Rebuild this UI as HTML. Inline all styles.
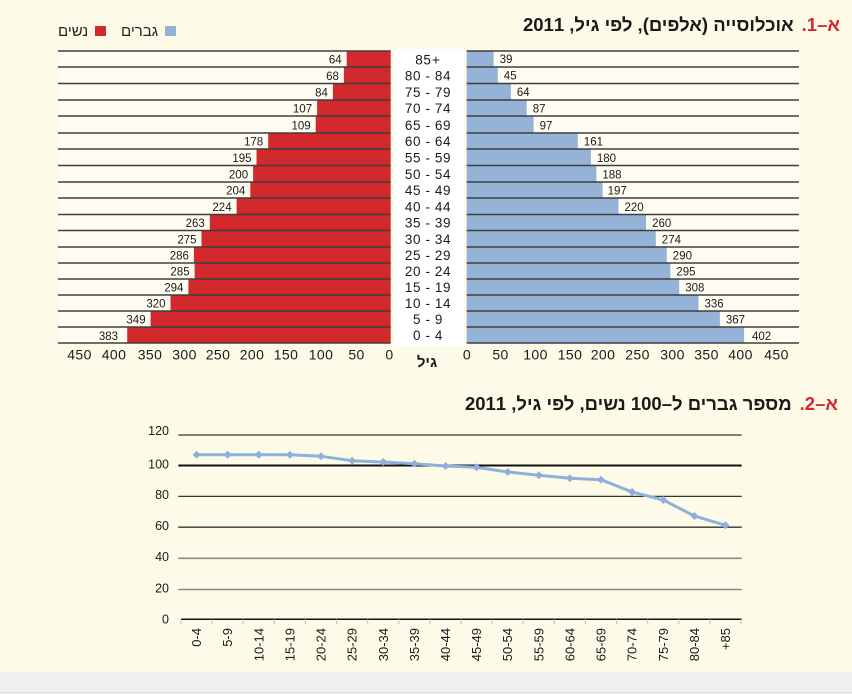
<!DOCTYPE html>
<html><head><meta charset="utf-8">
<style>
html,body{margin:0;padding:0;}
body{width:852px;height:694px;position:relative;overflow:hidden;background:#fdfbe8;font-family:"Liberation Sans","DejaVu Sans",sans-serif;}
svg{position:absolute;left:0;top:0;}
.t{position:absolute;white-space:nowrap;font-weight:bold;font-size:18.5px;line-height:20px;color:#1a1a1a;direction:ltr;}
.t .r{color:#d9262e;margin-left:8px;}
</style></head><body>
<svg width="852" height="694" viewBox="0 0 852 694" font-family="Liberation Sans, DejaVu Sans, sans-serif">
<rect x="0" y="672" width="852" height="22" fill="#efefef"/>
<line x1="0" y1="692.5" x2="852" y2="692.5" stroke="#dcdcdc" stroke-width="1"/>
<!-- legend -->
<text x="58" y="36" font-size="15" fill="#222">נשים</text>
<rect x="95" y="26" width="11" height="10" fill="#d2292d"/>
<text x="121" y="36" font-size="15" fill="#222">גברים</text>
<rect x="165" y="26" width="11" height="10" fill="#95b3d7"/>
<!-- plot areas -->
<rect x="58" y="51" width="333" height="292" fill="#fffdf2"/>
<rect x="466.7" y="51" width="333" height="292" fill="#fffdf2"/>
<rect x="394" y="49" width="70" height="297" fill="#ffffff"/>
<!-- red bars -->
<g fill="#d2292d">
<rect x="346.7" y="51" width="44" height="16"/>
<rect x="343.9" y="67" width="46.8" height="16.5"/>
<rect x="332.9" y="83.5" width="57.8" height="16.5"/>
<rect x="317.1" y="100" width="73.6" height="16"/>
<rect x="315.7" y="116" width="75" height="17"/>
<rect x="268.2" y="133" width="122.5" height="16"/>
<rect x="256.5" y="149" width="134.2" height="16.5"/>
<rect x="253.1" y="165.5" width="137.6" height="16.5"/>
<rect x="250.3" y="182" width="140.4" height="16"/>
<rect x="236.6" y="198" width="154.1" height="16.5"/>
<rect x="209.8" y="214.5" width="180.9" height="16"/>
<rect x="201.5" y="230.5" width="189.2" height="16.5"/>
<rect x="193.9" y="247" width="196.8" height="16"/>
<rect x="194.6" y="263" width="196.1" height="16"/>
<rect x="188.4" y="279" width="202.3" height="16"/>
<rect x="170.5" y="295" width="220.2" height="16"/>
<rect x="150.6" y="311" width="240.1" height="16"/>
<rect x="127.2" y="327" width="263.5" height="16"/>
</g>
<!-- blue bars -->
<g fill="#95b3d7">
<rect x="466.7" y="51" width="26.9" height="16"/>
<rect x="466.7" y="67" width="31.1" height="16.5"/>
<rect x="466.7" y="83.5" width="44.2" height="16.5"/>
<rect x="466.7" y="100" width="60" height="16"/>
<rect x="466.7" y="116" width="66.9" height="17"/>
<rect x="466.7" y="133" width="111.1" height="16"/>
<rect x="466.7" y="149" width="124.2" height="16.5"/>
<rect x="466.7" y="165.5" width="129.7" height="16.5"/>
<rect x="466.7" y="182" width="135.9" height="16"/>
<rect x="466.7" y="198" width="151.8" height="16.5"/>
<rect x="466.7" y="214.5" width="179.4" height="16"/>
<rect x="466.7" y="230.5" width="189.1" height="16.5"/>
<rect x="466.7" y="247" width="200.1" height="16"/>
<rect x="466.7" y="263" width="203.6" height="16"/>
<rect x="466.7" y="279" width="212.5" height="16"/>
<rect x="466.7" y="295" width="231.8" height="16"/>
<rect x="466.7" y="311" width="253.2" height="16"/>
<rect x="466.7" y="327" width="277.4" height="16"/>
</g>
<!-- row lines -->
<g stroke="#3e3e3e" stroke-width="1.4">
<path d="M58 51H390.7M58 67H390.7M58 83.5H390.7M58 100H390.7M58 116H390.7M58 133H390.7M58 149H390.7M58 165.5H390.7M58 182H390.7M58 198H390.7M58 214.5H390.7M58 230.5H390.7M58 247H390.7M58 263H390.7M58 279H390.7M58 295H390.7M58 311H390.7M58 327H390.7M58 343H390.7"/>
<path d="M466.7 51H799M466.7 67H799M466.7 83.5H799M466.7 100H799M466.7 116H799M466.7 133H799M466.7 149H799M466.7 165.5H799M466.7 182H799M466.7 198H799M466.7 214.5H799M466.7 230.5H799M466.7 247H799M466.7 263H799M466.7 279H799M466.7 295H799M466.7 311H799M466.7 327H799M466.7 343H799"/>
</g>
<!-- red value labels -->
<g font-size="11.5" fill="#1a1a1a" text-anchor="end">
<text x="341.7" y="63.5">64</text>
<text x="338.9" y="80">68</text>
<text x="327.9" y="96.5">84</text>
<text x="312.1" y="112.5">107</text>
<text x="310.7" y="129.5">109</text>
<text x="263.2" y="145.5">178</text>
<text x="251.5" y="162">195</text>
<text x="248.1" y="178.5">200</text>
<text x="245.3" y="194.5">204</text>
<text x="231.6" y="211">224</text>
<text x="204.8" y="227">263</text>
<text x="196.5" y="243.5">275</text>
<text x="188.9" y="259.5">286</text>
<text x="189.6" y="275.5">285</text>
<text x="183.4" y="291.5">294</text>
<text x="165.5" y="307.5">320</text>
<text x="145.6" y="323.5">349</text>
<text x="118" y="340">383</text>
</g>
<!-- blue value labels -->
<g font-size="11.5" fill="#1a1a1a">
<text x="499.6" y="63">39</text>
<text x="503.8" y="79.5">45</text>
<text x="516.9" y="96">64</text>
<text x="532.7" y="112.5">87</text>
<text x="539.6" y="129.5">97</text>
<text x="583.8" y="145.5">161</text>
<text x="596.9" y="162">180</text>
<text x="602.4" y="178.5">188</text>
<text x="607.6" y="194.5">197</text>
<text x="624.5" y="211">220</text>
<text x="652.1" y="227">260</text>
<text x="661.8" y="243.5">274</text>
<text x="672.8" y="259.5">290</text>
<text x="676.3" y="275.5">295</text>
<text x="685.2" y="291.5">308</text>
<text x="704.5" y="307.5">336</text>
<text x="725.9" y="323.5">367</text>
<text x="752" y="340">402</text>
</g>
<!-- age labels -->
<g font-size="13.5" fill="#1a1a1a" letter-spacing="0.6">
<text x="431.5" y="64.5" text-anchor="end">85</text>
<text x="432" y="64.5">+</text>
</g>
<g font-size="13.5" fill="#1a1a1a" text-anchor="middle" letter-spacing="0.6">
<text x="428" y="80.5">80 - 84</text>
<text x="428" y="97">75 - 79</text>
<text x="428" y="113">70 - 74</text>
<text x="428" y="130">65 - 69</text>
<text x="428" y="146">60 - 64</text>
<text x="428" y="162.5">55 - 59</text>
<text x="428" y="179">50 - 54</text>
<text x="428" y="195">45 - 49</text>
<text x="428" y="211.5">40 - 44</text>
<text x="428" y="227.5">35 - 39</text>
<text x="428" y="244">30 - 34</text>
<text x="428" y="260">25 - 29</text>
<text x="428" y="276">20 - 24</text>
<text x="428" y="292">15 - 19</text>
<text x="428" y="308">10 - 14</text>
<text x="428" y="324">5 - 9</text>
<text x="428" y="340">0 - 4</text>
</g>
<!-- pyramid tick labels -->
<g font-size="14" fill="#1a1a1a" text-anchor="middle" letter-spacing="0.4">
<text x="79.5" y="359.5">450</text>
<text x="114" y="359.5">400</text>
<text x="150" y="359.5">350</text>
<text x="184.5" y="359.5">300</text>
<text x="218" y="359.5">250</text>
<text x="252" y="359.5">200</text>
<text x="286" y="359.5">150</text>
<text x="321" y="359.5">100</text>
<text x="356.5" y="359.5">50</text>
<text x="389.5" y="359.5">0</text>
<text x="467" y="359.5">0</text>
<text x="500.5" y="359.5">50</text>
<text x="535.5" y="359.5">100</text>
<text x="570" y="359.5">150</text>
<text x="603" y="359.5">200</text>
<text x="637.5" y="359.5">250</text>
<text x="672.5" y="359.5">300</text>
<text x="706.5" y="359.5">350</text>
<text x="740.5" y="359.5">400</text>
<text x="776.5" y="359.5">450</text>
</g>
<text x="427" y="367" font-size="15" font-weight="bold" fill="#1a1a1a" text-anchor="middle">גיל</text>

<!-- line chart -->
<g stroke-width="1.3">
<line x1="178.3" y1="435" x2="741.7" y2="435" stroke="#333"/>
<line x1="178.3" y1="496.4" x2="741.7" y2="496.4" stroke="#333"/>
<line x1="178.3" y1="527.2" x2="741.7" y2="527.2" stroke="#333"/>
<line x1="178.3" y1="558.3" x2="741.7" y2="558.3" stroke="#8a8a8a" stroke-width="1.6"/>
<line x1="178.3" y1="589.5" x2="741.7" y2="589.5" stroke="#8a8a8a" stroke-width="1.6"/>
</g>
<line x1="178.3" y1="465.5" x2="741.7" y2="465.5" stroke="#111" stroke-width="2"/>
<line x1="181" y1="619.3" x2="741.7" y2="619.3" stroke="#111" stroke-width="1.5"/>
<path d="M181 619.3v5M212.1 619.3v5M243.2 619.3v5M274.3 619.3v5M305.4 619.3v5M336.6 619.3v5M367.7 619.3v5M398.8 619.3v5M429.9 619.3v5M461 619.3v5M492.1 619.3v5M523.2 619.3v5M554.3 619.3v5M585.4 619.3v5M616.6 619.3v5M647.7 619.3v5M678.8 619.3v5M709.9 619.3v5M741 619.3v5" stroke="#bbb" stroke-width="1"/>
<g font-size="12.5" fill="#1a1a1a" text-anchor="end">
<text x="169" y="435">120</text>
<text x="169" y="468.5">100</text>
<text x="169" y="499">80</text>
<text x="169" y="530">60</text>
<text x="169" y="561">40</text>
<text x="169" y="592.5">20</text>
<text x="169" y="623.5">0</text>
</g>
<polyline fill="none" stroke="#8eb0dc" stroke-width="3" stroke-linejoin="round" points="196.6,454.7 227.7,454.7 258.8,454.7 289.9,454.7 321,456.3 352.2,460.7 383.3,462 414.4,463.7 445.5,466 476.6,467.3 507.7,472 538.8,475.3 569.9,478.3 601,479.7 632.1,492 663.3,500 694.4,516 725.5,525.3"/>
<g fill="#8eb0dc">
<path d="M196.6 450.7l4 4-4 4-4-4zM227.7 450.7l4 4-4 4-4-4zM258.8 450.7l4 4-4 4-4-4zM289.9 450.7l4 4-4 4-4-4zM321 452.3l4 4-4 4-4-4zM352.2 456.7l4 4-4 4-4-4zM383.3 458l4 4-4 4-4-4zM414.4 459.7l4 4-4 4-4-4zM445.5 462l4 4-4 4-4-4zM476.6 463.3l4 4-4 4-4-4zM507.7 468l4 4-4 4-4-4zM538.8 471.3l4 4-4 4-4-4zM569.9 474.3l4 4-4 4-4-4zM601 475.7l4 4-4 4-4-4zM632.1 488l4 4-4 4-4-4zM663.3 496l4 4-4 4-4-4zM694.4 512l4 4-4 4-4-4zM725.5 521.3l4 4-4 4-4-4z"/>
</g>
<g font-size="13" fill="#1a1a1a" text-anchor="end">
<text transform="translate(201.1,628) rotate(-90)">0-4</text>
<text transform="translate(232.2,628) rotate(-90)">5-9</text>
<text transform="translate(263.3,628) rotate(-90)">10-14</text>
<text transform="translate(294.4,628) rotate(-90)">15-19</text>
<text transform="translate(325.5,628) rotate(-90)">20-24</text>
<text transform="translate(356.7,628) rotate(-90)">25-29</text>
<text transform="translate(387.8,628) rotate(-90)">30-34</text>
<text transform="translate(418.9,628) rotate(-90)">35-39</text>
<text transform="translate(450,628) rotate(-90)">40-44</text>
<text transform="translate(481.1,628) rotate(-90)">45-49</text>
<text transform="translate(512.2,628) rotate(-90)">50-54</text>
<text transform="translate(543.3,628) rotate(-90)">55-59</text>
<text transform="translate(574.4,628) rotate(-90)">60-64</text>
<text transform="translate(605.5,628) rotate(-90)">65-69</text>
<text transform="translate(636.6,628) rotate(-90)">70-74</text>
<text transform="translate(667.8,628) rotate(-90)">75-79</text>
<text transform="translate(698.9,628) rotate(-90)">80-84</text>
<text transform="translate(730,628) rotate(-90)">85</text>
<text transform="translate(730,642.5) rotate(-90)">+</text>
</g>
</svg>
<div class="t" style="right:12px;top:15px;"><span dir="rtl" style="unicode-bidi:isolate">אוכלוסייה (אלפים), לפי גיל, 2011</span><bdo class="r" dir="ltr">.1–א</bdo></div>
<div class="t" style="right:14px;top:394px;"><span dir="rtl" style="unicode-bidi:isolate">מספר גברים ל–100 נשים, לפי גיל, 2011</span><bdo class="r" dir="ltr">.2–א</bdo></div>
</body></html>
